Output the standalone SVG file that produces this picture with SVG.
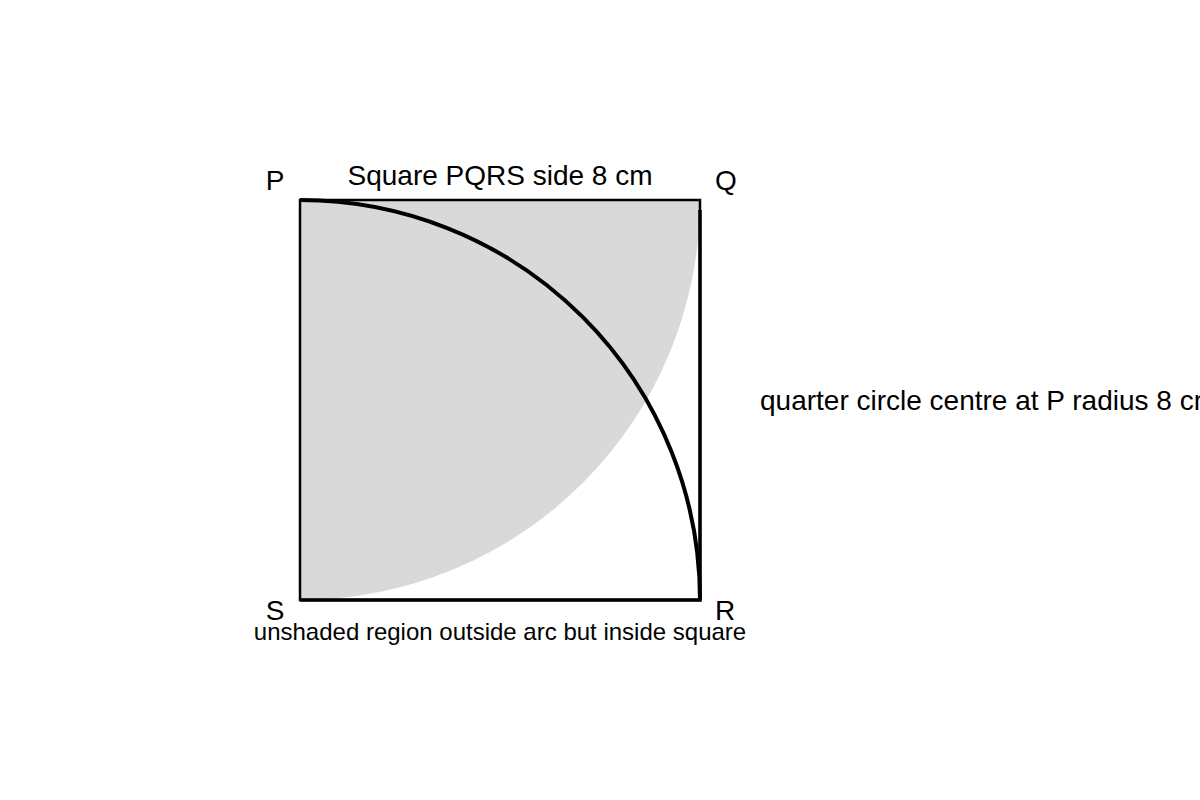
<svg xmlns="http://www.w3.org/2000/svg" width="1200" height="800" viewBox="0 0 1200 800">
<style>
text{font-family:"Liberation Sans",Arial,sans-serif;fill:#000}
.lbl{font-size:28px}
.cap{font-size:28px}
.sm{font-size:24px}
</style>
<rect width="1200" height="800" fill="#fff"/>
<g id="shade">
<path d="M300,200 L700,200 A400,400 0 0 1 300,600 Z" fill="#d9d9d9"/>
</g>
<g id="square">
<rect x="300" y="200" width="400" height="400" fill="none" stroke="#000" stroke-width="2.5"/>
<polyline points="300,600 700,600 700,210" fill="none" stroke="#000" stroke-width="3.5"/>
</g>
<g id="arc">
<path d="M300,200 A400,400 0 0 1 700,600" fill="none" stroke="#000" stroke-width="4"/>
</g>
<g id="labels">
<text class="lbl" x="275" y="190" text-anchor="middle">P</text>
<text class="lbl" x="726" y="190" text-anchor="middle">Q</text>
<text class="lbl" x="275" y="620" text-anchor="middle">S</text>
<text class="lbl" x="725" y="620" text-anchor="middle">R</text>
<text class="cap" x="500" y="185" text-anchor="middle">Square PQRS side 8 cm</text>
<text class="cap" x="760" y="410">quarter circle centre at P radius 8 cm</text>
<text class="sm" x="500" y="640" text-anchor="middle">unshaded region outside arc but inside square</text>
</g>
</svg>
